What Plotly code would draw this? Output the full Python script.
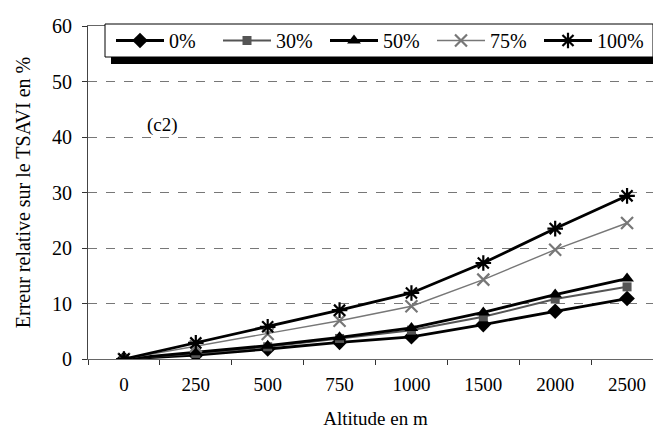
import plotly.graph_objects as go

altitudes = ["0", "250", "500", "750", "1000", "1500", "2000", "2500"]
series_names = ["0%", "30%", "50%", "75%", "100%"]
v0 = [0, 0.7, 1.8, 3.0, 4.0, 6.2, 8.6, 10.9]
v30 = [0, 1.0, 2.2, 3.7, 5.2, 7.6, 10.8, 13.0]
v50 = [0, 1.2, 2.4, 3.9, 5.6, 8.4, 11.6, 14.5]
v75 = [0, 2.3, 4.5, 6.9, 9.5, 14.3, 19.7, 24.5]
v100 = [0, 2.9, 5.8, 8.8, 11.9, 17.3, 23.5, 29.4]
values = [v0, v30, v50, v75, v100]

symbols = ["diamond", "square", "triangle-up", "x-thin", "asterisk"]
colors = ["black", "#555555", "black", "#777777", "black"]
widths = [2.8, 2.0, 2.8, 1.4, 2.8]
msizes = [12, 9, 12, 12, 13]

fig = go.Figure()
for name, vals, sym, col, w, ms in zip(series_names, values, symbols, colors, widths, msizes):
    mline = dict(width=2.2, color=col) if sym in ("x-thin", "asterisk") else dict(width=0)
    fig.add_trace(go.Scatter(
        x=altitudes, y=vals, name=name, mode="lines+markers",
        line=dict(color=col, width=w),
        marker=dict(symbol=sym, size=ms, color=col, line=mline),
    ))

font_family = "Liberation Serif"

# plot area in pixels: x 80..655, y 18..351
def px(x):
    return (x - 80) / 575

def py(y):
    return (351 - y) / 333

fig.update_layout(
    width=661, height=434,
    margin=dict(l=80, r=6, t=18, b=83),
    paper_bgcolor="white", plot_bgcolor="white",
    font=dict(family=font_family, size=18, color="black"),
    showlegend=True,
    legend=dict(
        orientation="h", x=px(103), y=py(32.5), xanchor="left", yanchor="middle",
        bgcolor="rgba(0,0,0,0)", borderwidth=0,
        entrywidth=44, entrywidthmode="pixels",
        font=dict(family=font_family, size=20),
        itemwidth=48, tracegroupgap=0,
    ),
    xaxis=dict(
        type="category", range=[-0.5, 7.5], automargin=False,
        showline=True, linecolor="#666666", linewidth=1, mirror=True,
        ticks="outside", tickson="boundaries", ticklen=5, tickcolor="#333333",
        showgrid=False, tickfont=dict(family=font_family, size=19),
        ticklabelstandoff=8,
        title=dict(text="Altitude en m", font=dict(family=font_family, size=19), standoff=17),
    ),
    yaxis=dict(
        range=[0, 60], dtick=10, automargin=False,
        showline=True, linecolor="#444444", linewidth=1, mirror=True,
        ticks="outside", ticklen=5, tickcolor="#333333",
        ticklabelstandoff=6,
        showgrid=True, gridcolor="#777777", griddash="dash", gridwidth=1,
        zeroline=False, tickfont=dict(family=font_family, size=20),
        title=dict(text="Erreur relative sur le TSAVI en %", font=dict(family=font_family, size=20), standoff=16),
    ),
)

# legend shadow and box
fig.add_shape(type="rect", xref="paper", yref="paper",
              x0=px(103), x1=px(653), y0=py(56), y1=py(22),
              fillcolor="black", line=dict(width=0), layer="above")
fig.add_shape(type="rect", xref="paper", yref="paper",
              x0=px(97), x1=px(645), y0=py(49), y1=py(16),
              fillcolor="white", line=dict(width=1, color="black"), layer="above")

fig.add_annotation(text="(c2)", xref="paper", yref="paper",
                   x=px(137), y=py(104),
                   showarrow=False, font=dict(family=font_family, size=19))

fig.write_html("out.html")
